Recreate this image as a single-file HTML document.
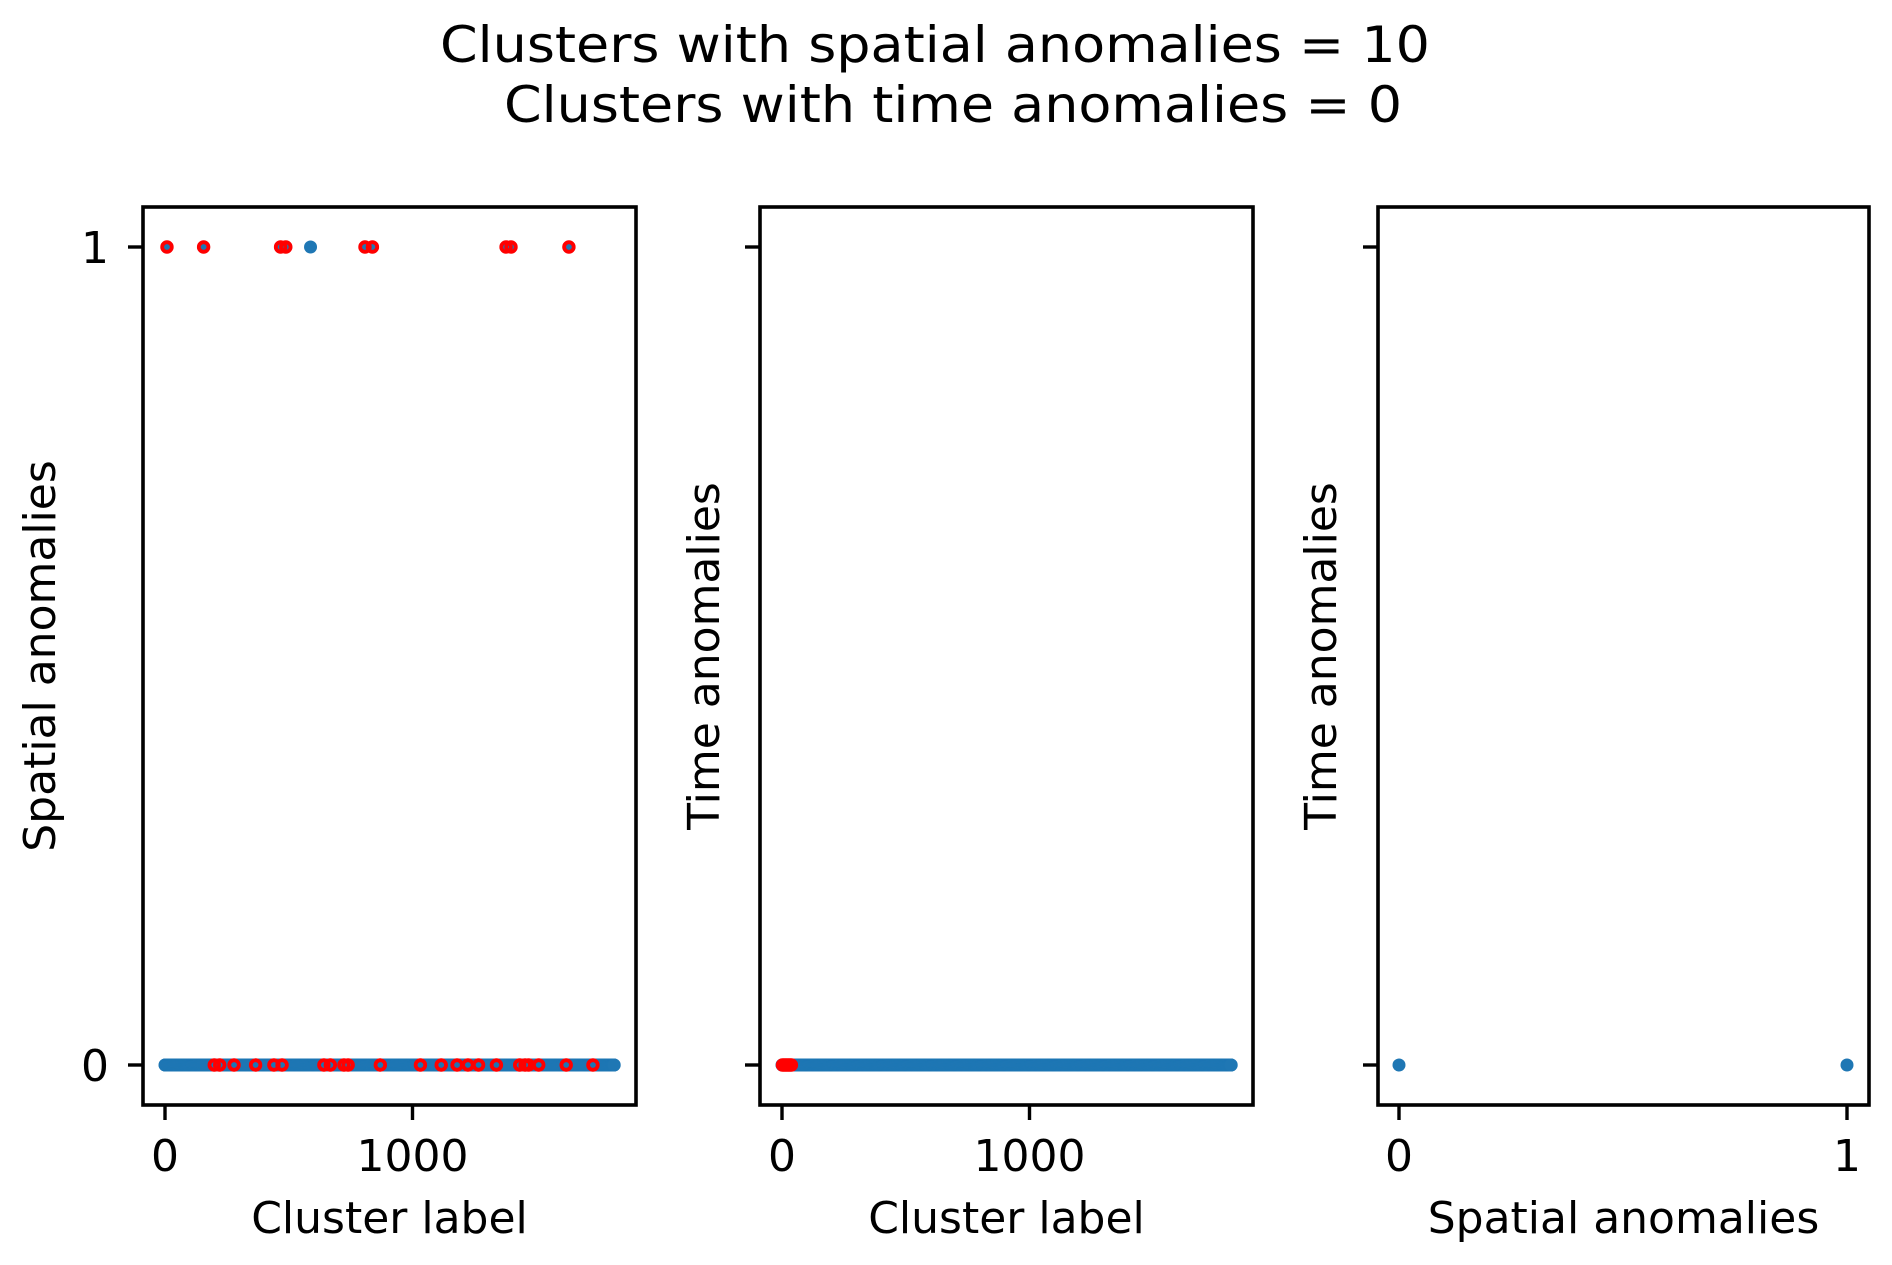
<!DOCTYPE html>
<html><head><meta charset="utf-8"><style>
html,body{margin:0;padding:0;background:#fff;}
svg{display:block;font-family:"DejaVu Sans","Liberation Sans",sans-serif;}
</style></head><body>
<svg id="chart" width="1892" height="1265" viewBox="0 0 1892 1265" xmlns="http://www.w3.org/2000/svg">
<text x="935" y="62" font-size="50" text-anchor="middle" textLength="990" lengthAdjust="spacingAndGlyphs">Clusters with spatial anomalies = 10</text>
<text x="953" y="122" font-size="50" text-anchor="middle" textLength="898" lengthAdjust="spacingAndGlyphs">Clusters with time anomalies = 0</text>
<g id="marks"></g>
</svg>
<script>
// data
const clusterCount = 1816; // cluster labels 0..1815
const spatialAnomalyLabels = [8,156,467,488,588,808,838,1378,1398,1632];
const spatialRedTop = [8,156,467,488,808,838,1378,1398,1632];
const spatialRedBottom = [199,221,279,366,440,473,642,668,723,740,870,1032,1116,1180,1224,1267,1339,1433,1455,1469,1510,1621,1729];
const timeRedBottom = [2,8,14,20,26,32,38];
const scatterX = [0,1];
const scatterY = [0,0];
const clusterTicks = [0,1000];
const clusterTickLabels = ["0","1000"];
const binTicks = [0,1];
const binTickLabels = ["0","1"];

const NS = "http://www.w3.org/2000/svg";
const marks = document.getElementById('marks');
const top_ = 207, bottom_ = 1105;
function mk(tag, attrs, parent){const e=document.createElementNS(NS,tag);for(const k in attrs)e.setAttribute(k,attrs[k]);(parent||marks).appendChild(e);return e;}
const yScale = v => 1065 + (247 - 1065) * v;
function clusterScale(x0){return v => x0 + v * 0.2475;}

const panels = [
  {left:143,right:636,x:clusterScale(165),ticks:clusterTicks,labels:clusterTickLabels,xlabel:"Cluster label",ylabel:"Spatial anomalies",ylx:55,showY:true,name:"spatial-panel"},
  {left:760,right:1253,x:clusterScale(782),ticks:clusterTicks,labels:clusterTickLabels,xlabel:"Cluster label",ylabel:"Time anomalies",ylx:719,showY:false,name:"time-panel"},
  {left:1378,right:1869,x:v=>1399+v*448,ticks:binTicks,labels:binTickLabels,xlabel:"Spatial anomalies",ylabel:"Time anomalies",ylx:1336,showY:false,name:"scatter-panel"}
];

panels.forEach((p,i)=>{
  const g = mk('g',{});
  
  
  const pts = mk('g',{},g);
  
  
  if(i<2){
    for(let c=0;c<clusterCount;c++){
      const val = (i===0 && spatialAnomalyLabels.includes(c)) ? 1 : 0;
      const d = mk('circle',{cx:p.x(c),cy:yScale(val),r:6.5,fill:'#1f77b4'},pts);
      
      
    }
    const reds = i===0 ? [[spatialRedTop,1],[spatialRedBottom,0]] : [[timeRedBottom,0]];
    reds.forEach(([arr,val])=>arr.forEach(c=>{
      const r = mk('circle',{cx:p.x(c),cy:yScale(val),r:4.8,fill:'none',stroke:'#ff0000','stroke-width':3.8},pts);
      
      
    }));
  } else {
    scatterX.forEach((xv,k)=>{
      const d = mk('circle',{cx:p.x(xv),cy:yScale(scatterY[k]),r:6.5,fill:'#1f77b4'},pts);
      
      
    });
  }
  const frame = mk('rect',{x:p.left,y:top_,width:p.right-p.left,height:bottom_-top_,fill:'none',stroke:'#000','stroke-width':3.6},g);
  
  
  p.ticks.forEach((t,k)=>{
    const x=p.x(t);
    const tk = mk('line',{x1:x,x2:x,y1:bottom_,y2:bottom_+15,stroke:'#000','stroke-width':3.4},g);
    
    
    const tl = mk('text',{x:x,y:1171,'font-size':44,'text-anchor':'middle'},g);
    tl.textContent = p.labels[k];
    
    
  });
  [0,1].forEach(v=>{
    const y=yScale(v);
    const tk = mk('line',{x1:p.left-15,x2:p.left,y1:y,y2:y,stroke:'#000','stroke-width':3.4},g);
    
    
    if(p.showY){
      const tl = mk('text',{x:109,y:y+16,'font-size':44,'text-anchor':'end'},g);
      tl.textContent = String(v);
      
      
    }
  });
  const xl = mk('text',{x:(p.left+p.right)/2,y:1233,'font-size':44,'text-anchor':'middle'},g);
  xl.textContent = p.xlabel;
  
  
  const cy=(top_+bottom_)/2;
  const yl = mk('text',{x:p.ylx,y:cy,'font-size':44,'text-anchor':'middle',transform:`rotate(-90 ${p.ylx} ${cy})`},g);
  yl.textContent = p.ylabel;
  
  
});
</script>
</body></html>
